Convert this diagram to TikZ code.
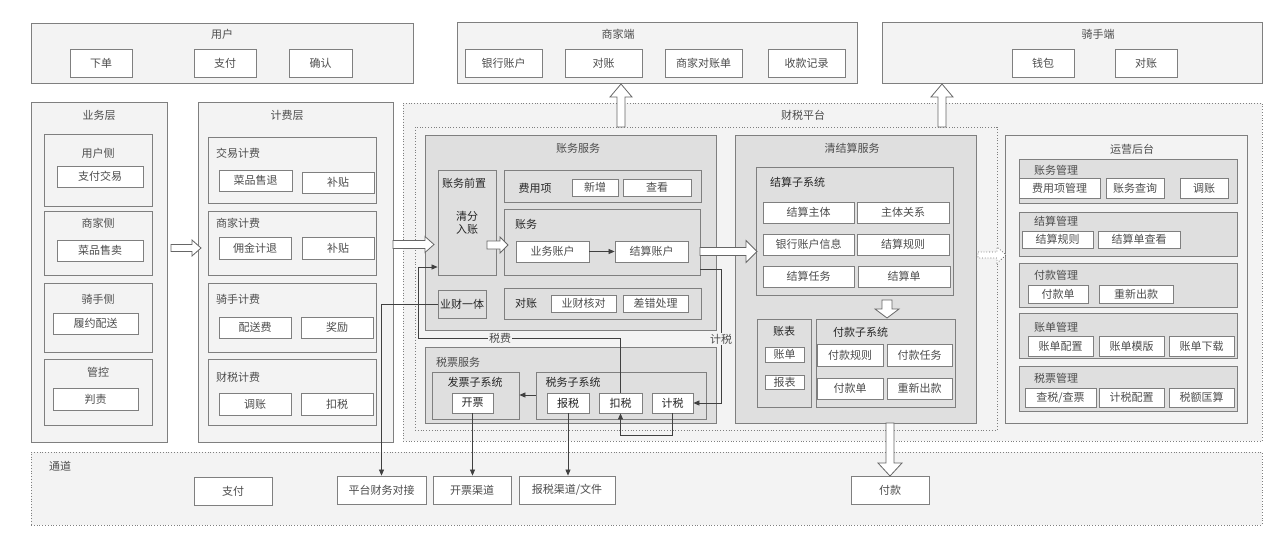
\documentclass[tikz,border=0pt]{standalone}
\usepackage{fontspec}
\setmainfont{Noto Sans CJK SC}
\usetikzlibrary{arrows.meta}
\definecolor{bd}{HTML}{7F7F7F}
\definecolor{lg}{HTML}{F3F3F3}
\definecolor{mg}{HTML}{DFDFDF}
\definecolor{tx}{HTML}{4D4D4D}
\definecolor{dk}{HTML}{262626}
\newcommand\bx[7][]{\node[#1, minimum width={#5-#3}, minimum height={#6-#4}] (#2) at ({(#3+#5)/2},{(#4+#6)/2}) {#7};}
\newcommand\BArR[7][]{\draw[barrow,#1] (#2,{#4-#5}) -- ({#3-#7},{#4-#5}) -- ({#3-#7},{#4-#6}) -- (#3,#4) -- ({#3-#7},{#4+#6}) -- ({#3-#7},{#4+#5}) -- (#2,{#4+#5}) -- cycle;}
\newcommand\BArV[6]{\draw[barrow] ({#1-#4},#2) -- ({#1-#4},{#3-(#6)}) -- ({#1-#5},{#3-(#6)}) -- (#1,#3) -- ({#1+#5},{#3-(#6)}) -- ({#1+#4},{#3-(#6)}) -- ({#1+#4},#2) -- cycle;}
\tikzset{
  panel/.style={draw=bd, fill=lg, line width=0.8pt, inner sep=0pt},
  dpanel/.style={draw=bd, fill=mg, line width=0.8pt, inner sep=0pt},
  dotpanel/.style={draw=bd, fill=lg, dotted, line width=0.8pt, inner sep=0pt},
  item/.style={draw=bd, fill=white, line width=0.8pt, text=tx, inner sep=0pt},
  ttl/.style={text=tx, inner sep=0pt},
  sub/.style={text=dk, inner sep=0pt},
  lbl/.style={fill=lg, inner sep=1pt, text=tx},
  conn/.style={draw=black!75, line width=0.7pt},
  tip/.style={-{Triangle[length=6pt,width=5pt]}},
  barrow/.style={draw=bd!80!black, fill=white, line width=0.8pt},
}
\begin{document}
\begin{tikzpicture}[x=1pt,y=-1pt, every node/.style={font=\fontsize{11}{13}\selectfont, text=tx}]
\useasboundingbox (0,0) rectangle (1280,546);
\fill[white] (0,0) rectangle (1280,546);

% ---------- top row ----------
\bx[panel]{user}{31}{23}{413}{83}{}
\node[ttl] (userT) at (222,34) {用户};
\bx[item]{xd}{70}{49}{132}{77}{下单}
\bx[item]{zfU}{194}{49}{256}{77}{支付}
\bx[item]{qr}{289}{49}{352}{77}{确认}

\bx[panel]{shop}{457}{22}{857}{83}{}
\node[ttl] (shopT) at (618,34) {商家端};
\bx[item]{yhzh}{465}{49}{542}{77}{银行账户}
\bx[item]{dzS}{565}{49}{642}{77}{对账}
\bx[item]{sjdzd}{665}{49}{742}{77}{商家对账单}
\bx[item]{skjl}{768}{49}{845}{77}{收款记录}

\bx[panel]{rider}{882}{22}{1262}{83}{}
\node[ttl] (riderT) at (1098,34) {骑手端};
\bx[item]{qb}{1012}{49}{1074}{77}{钱包}
\bx[item]{dzR}{1115}{49}{1177}{77}{对账}

% ---------- 财税平台 ----------
\bx[dotpanel]{ctpt}{403}{103}{1262}{441}{}
\node[ttl] (ctptT) at (803,115) {财税平台};
\bx[dotpanel]{innerP}{415}{127}{997}{430}{}

% ---------- 业务层 ----------
\bx[panel]{ywc}{31}{102}{167}{442}{}
\node[ttl] (ywcT) at (99,115) {业务层};
\bx[panel]{yhc}{44}{134}{152}{206}{}
\node[ttl] (yhcT) at (98,153) {用户侧};
\bx[item]{zfjy}{57}{166}{143}{187}{支付交易}
\bx[panel]{sjc}{44}{211}{152}{275}{}
\node[ttl] (sjcT) at (98,223) {商家侧};
\bx[item]{cpss}{57}{240}{143}{261}{菜品售卖}
\bx[panel]{qsc}{44}{283}{152}{352}{}
\node[ttl] (qscT) at (98,299) {骑手侧};
\bx[item]{lyps}{53}{313}{138}{334}{履约配送}
\bx[panel]{gk}{44}{359}{152}{425}{}
\node[ttl] (gkT) at (98,372) {管控};
\bx[item]{pz}{53}{388}{138}{410}{判责}

% ---------- 计费层 ----------
\bx[panel]{jfc}{198}{102}{393}{442}{}
\node[ttl] (jfcT) at (287,115) {计费层};
\bx[panel]{jyjf}{208}{137}{376}{203}{}
\node[ttl,anchor=west] (jyjfT) at (216,153) {交易计费};
\bx[item]{cpst}{219}{170}{292}{191}{菜品售退}
\bx[item]{btA}{302}{172}{374}{193}{补贴}
\bx[panel]{sjjf}{208}{211}{376}{275}{}
\node[ttl,anchor=west] (sjjfT) at (216,223) {商家计费};
\bx[item]{yjjt}{219}{237}{291}{259}{佣金计退}
\bx[item]{btB}{302}{237}{374}{259}{补贴}
\bx[panel]{qsjf}{208}{283}{376}{352}{}
\node[ttl,anchor=west] (qsjfT) at (216,299) {骑手计费};
\bx[item]{psf}{219}{317}{291}{338}{配送费}
\bx[item]{jl}{301}{317}{373}{338}{奖励}
\bx[panel]{csjf}{208}{359}{376}{425}{}
\node[ttl,anchor=west] (csjfT) at (216,377) {财税计费};
\bx[item]{tzA}{219}{393}{291}{415}{调账}
\bx[item]{ksA}{301}{393}{373}{415}{扣税}

% ---------- 账务服务 ----------
\bx[dpanel]{zwfw}{425}{135}{716}{330}{}
\node[ttl] (zwfwT) at (578,148) {账务服务};
\bx[dpanel]{qzqz}{438}{170}{496}{275}{}
\node[sub] (qzqzT) at (464,183) {账务前置};
\node[sub,align=center] (qfrz) at (467,223) {清分\\入账};
\bx[dpanel]{fyx}{504}{170}{701}{202}{}
\node[sub] (fyxT) at (535,188) {费用项};
\bx[item]{xz}{572}{179}{618}{196}{新增}
\bx[item]{ck}{623}{179}{691}{196}{查看}
\bx[dpanel]{zwbox}{504}{209}{700}{275}{}
\node[sub] (zwboxT) at (526,224) {账务};
\bx[item]{ywzh}{516}{241}{589}{262}{业务账户}
\bx[item]{jszh}{615}{241}{688}{262}{结算账户}
\bx[dpanel]{ycyt}{438}{290}{486}{318}{\textcolor{dk}{业财一体}}
\bx[dpanel]{dzbox}{504}{288}{701}{319}{}
\node[sub] (dzboxT) at (526,303) {对账};
\bx[item]{ychd}{551}{295}{616}{312}{业财核对}
\bx[item]{cccl}{623}{295}{688}{312}{差错处理}

% ---------- 税票服务 ----------
\bx[dpanel]{spfw}{425}{347}{716}{423}{}
\node[ttl] (spfwT) at (458,362) {税票服务};
\bx[dpanel]{fpz}{432}{372}{519}{419}{}
\node[sub] (fpzT) at (475,382) {发票子系统};
\bx[item]{kp}{452}{393}{493}{413}{\textcolor{dk}{开票}}
\bx[dpanel]{swz}{536}{372}{706}{419}{}
\node[sub] (swzT) at (573,382) {税务子系统};
\bx[item]{bs}{547}{393}{589}{413}{\textcolor{dk}{报税}}
\bx[item]{ks2}{599}{393}{642}{413}{\textcolor{dk}{扣税}}
\bx[item]{jsx}{652}{393}{693}{413}{\textcolor{dk}{计税}}

% ---------- 清结算服务 ----------
\bx[dpanel]{qjs}{735}{135}{976}{423}{}
\node[ttl] (qjsT) at (852,148) {清结算服务};
\bx[dpanel]{jszx}{756}{167}{953}{295}{}
\node[sub,anchor=west] (jszxT) at (770,182) {结算子系统};
\bx[item]{jszt}{763}{202}{854}{223}{结算主体}
\bx[item]{ztgx}{857}{202}{949}{223}{主体关系}
\bx[item]{yhxx}{763}{234}{854}{255}{银行账户信息}
\bx[item]{jsgz}{857}{234}{949}{255}{结算规则}
\bx[item]{jsrw}{763}{266}{854}{287}{结算任务}
\bx[item]{jsd}{858}{266}{950}{287}{结算单}
\bx[dpanel]{zb}{757}{319}{811}{407}{}
\node[sub] (zbT) at (784,331) {账表};
\bx[item]{zd}{765}{347}{804}{362}{账单}
\bx[item]{bb}{765}{375}{804}{389}{报表}
\bx[dpanel]{fkz}{816}{319}{955}{407}{}
\node[sub,anchor=west] (fkzT) at (833,332) {付款子系统};
\bx[item]{fkgz}{817}{344}{883}{366}{付款规则}
\bx[item]{fkrw}{887}{344}{952}{366}{付款任务}
\bx[item]{fkd}{817}{378}{883}{399}{付款单}
\bx[item]{cxck}{887}{378}{952}{399}{重新出款}

% ---------- 运营后台 ----------
\bx[panel]{yyht}{1005}{135}{1247}{423}{}
\node[ttl] (yyhtT) at (1132,149) {运营后台};
\bx[dpanel]{zwgl}{1019}{159}{1237}{203}{}
\node[ttl,anchor=west] (zwglT) at (1034,170) {账务管理};
\bx[item]{fyxgl}{1019}{178}{1100}{198}{费用项管理}
\bx[item]{zwcx}{1106}{178}{1164}{198}{账务查询}
\bx[item]{tzB}{1180}{178}{1228}{198}{调账}
\bx[dpanel]{jsgl}{1019}{212}{1237}{256}{}
\node[ttl,anchor=west] (jsglT) at (1034,221) {结算管理};
\bx[item]{jsgzB}{1022}{231}{1093}{248}{结算规则}
\bx[item]{jsdck}{1098}{231}{1180}{248}{结算单查看}
\bx[dpanel]{fkgl}{1019}{263}{1237}{307}{}
\node[ttl,anchor=west] (fkglT) at (1034,275) {付款管理};
\bx[item]{fkdB}{1028}{285}{1088}{303}{付款单}
\bx[item]{cxckB}{1099}{285}{1173}{303}{重新出款}
\bx[dpanel]{zdgl}{1019}{313}{1237}{358}{}
\node[ttl,anchor=west] (zdglT) at (1034,327) {账单管理};
\bx[item]{zdpz}{1028}{336}{1093}{356}{账单配置}
\bx[item]{zdmb}{1099}{336}{1164}{356}{账单模版}
\bx[item]{zdxz}{1169}{336}{1234}{356}{账单下载}
\bx[dpanel]{spgl}{1019}{366}{1237}{411}{}
\node[ttl,anchor=west] (spglT) at (1034,378) {税票管理};
\bx[item]{csccp}{1025}{388}{1096}{407}{查税/查票}
\bx[item]{jspz}{1099}{388}{1164}{407}{计税配置}
\bx[item]{sekx}{1169}{388}{1234}{407}{税额匡算}

% ---------- 通道 ----------
\bx[dotpanel]{td}{31}{452}{1262}{525}{}
\node[ttl] (tdT) at (60,466) {通道};
\bx[item]{zfT}{194}{477}{272}{505}{支付}
\bx[item]{ptcw}{337}{476}{426}{504}{平台财务对接}
\bx[item]{kpqd}{433}{476}{511}{504}{开票渠道}
\bx[item]{bsqd}{519}{476}{615}{504}{报税渠道/文件}
\bx[item]{fkT}{851}{476}{929}{504}{付款}

% ---------- block arrows ----------
\BArR{171}{201}{248}{3.5}{8}{9}
\BArR{393}{434}{244.5}{4}{8}{9}
\BArR{487}{508}{245}{4}{8}{8}
\BArR{700}{757}{251.5}{4}{11}{11}
\BArR[dotted]{978}{1006}{255}{3}{8}{9}
\BArV{887}{300}{318}{5}{12}{9}
\BArV{890}{423}{476}{4}{12}{13}
\BArV{621}{127}{84}{4}{11}{-13}
\BArV{942}{127}{84}{4}{11}{-13}

% ---------- connectors ----------
\draw[conn,tip] (ywzh) -- (jszh);
\draw[conn,tip] (ycyt.west) -| (ptcw.north);
\draw[conn,tip] (kp.south) -- (kp.south |- kpqd.north);
\draw[conn,tip] (bs.south) -- (bs.south |- bsqd.north);
\coordinate (sfA) at (418,338);
\coordinate (sfB) at (418,267);
\draw[conn,tip] (ks2.north) |- (sfA) -- (sfB) -- (sfB -| qzqz.west);
\node[lbl] (sfL) at (500,338) {税费};
\coordinate (jsA) at (721,269);
\draw[conn,tip] (jsA -| zwbox.east) -- (jsA) |- (jsx.east);
\node[lbl] (jsL) at (721,339) {计税};
\path (ks2.south) ++(0,22) coordinate (kA);
\draw[conn,tip] (jsx.south) |- (kA) -- (ks2.south);
\coordinate (fpA) at (527,395);
\draw[conn,tip] (fpA -| swz.west) -- (fpA -| fpz.east);
\end{tikzpicture}
\end{document}
